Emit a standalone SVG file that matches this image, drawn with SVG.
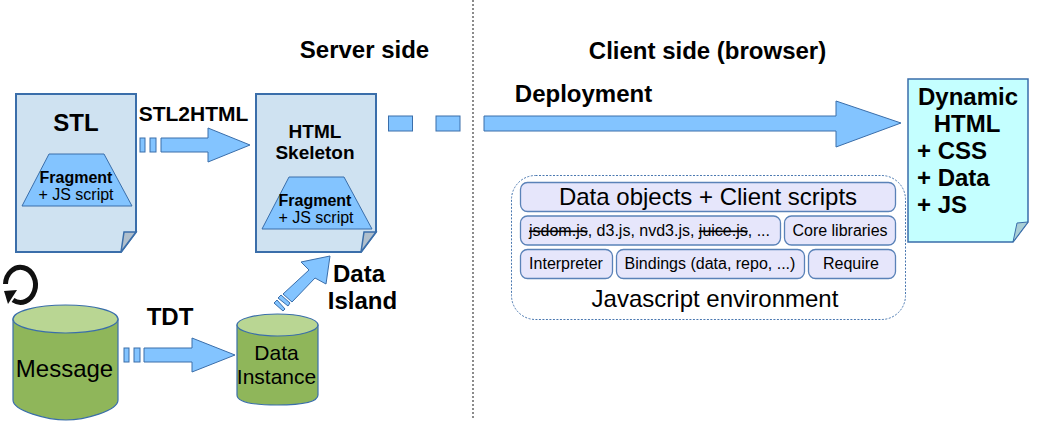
<svg xmlns="http://www.w3.org/2000/svg" width="1044" height="440" viewBox="0 0 1044 440">
<style>
text{font-family:"Liberation Sans",Arial,sans-serif;fill:#000;text-anchor:middle}
.b{font-weight:bold}
.s{text-anchor:start}
.doc{fill:#cfe2f1;stroke:#3a6eaa;stroke-width:2}
.fold{fill:#b0bfcc;stroke:#3a6eaa;stroke-width:1.5}
.arr{fill:#83c4ff;stroke:#3a6eaa;stroke-width:1}
.trap{fill:#83c4ff;stroke:#3a6eaa;stroke-width:1}
.cyl{fill:#8fb65a;stroke:#3a6eaa;stroke-width:1.2}
.top{fill:#b9d693;stroke:#3a6eaa;stroke-width:1.2}
.box{fill:#e6e6fb;stroke:#5a82b8;stroke-width:1.3}
</style>
<g id="divider"><line x1="473" y1="0" x2="473" y2="419" stroke="#666" stroke-width="1.5" stroke-dasharray="2 2"/></g>
<g id="headings">
<text class="b" x="364.500" y="58" font-size="24">Server side</text>
<text class="b" x="707.500" y="59" font-size="24">Client side (browser)</text>
</g>
<g id="stl">
<path class="doc" d="M16 94H136V232L121 252H16Z"/>
<path class="fold" d="M121 252L124 232L136 232Z"/>
<text class="b" x="76" y="131" font-size="24">STL</text>
<path class="trap" d="M49 154H104L132 206H22Z"/>
<text class="b" x="76" y="183" font-size="16">Fragment</text>
<text x="76" y="200" font-size="16">+ JS script</text>
</g>
<g id="html-skeleton">
<path class="doc" d="M256 94H376V232L361 252H256Z"/>
<path class="fold" d="M361 252L364 232L376 232Z"/>
<text class="b" x="315" y="138" font-size="19">HTML</text>
<text class="b" x="315" y="159" font-size="19">Skeleton</text>
<path class="trap" d="M289 177H344L372 229H262Z"/>
<text class="b" x="315" y="206" font-size="16">Fragment</text>
<text x="316" y="223" font-size="16">+ JS script</text>
</g>
<g id="dynamic-html">
<path d="M908 79H1028V222L1013 242H908Z" fill="#c4ffff" stroke="#3a6eaa" stroke-width="1.5"/>
<path d="M1013 242L1017 223L1028 222Z" fill="#a9cfd6" stroke="#3a6eaa" stroke-width="1"/>
<text class="b" x="968" y="105" font-size="24">Dynamic</text>
<text class="b" x="967" y="132" font-size="24">HTML</text>
<text class="b s" x="917" y="159" font-size="24">+ CSS</text>
<text class="b s" x="917" y="186" font-size="24">+ Data</text>
<text class="b s" x="917" y="213" font-size="24">+ JS</text>
</g>
<g id="message">
<path class="cyl" d="M13 319V400C13 411 48 420 66 420H66C84 420 118 411 118 400V319Z"/>
<ellipse class="top" cx="65.500" cy="319" rx="52.500" ry="14"/>
<text x="64.500" y="377" font-size="24">Message</text>
</g>
<g id="data-instance">
<path class="cyl" d="M237 325V395C237 403 258 405 277 405C296 405 318 403 318 395V325Z"/>
<ellipse class="top" cx="277.500" cy="325" rx="40.500" ry="11"/>
<text x="276.500" y="360" font-size="21">Data</text>
<text x="276.500" y="384" font-size="21">Instance</text>
</g>
<g id="refresh-icon"><path d="M5.500 284A15 17.500 0 1 1 13 300" fill="none" stroke="#111" stroke-width="5"/><path d="M4 291L17 290L8 304Z" fill="#111"/></g>
<g id="connectors">
<path class="arr" d="M161 138H208V128L250 145L208 162V152H161Z"/>
<rect class="arr" x="140" y="138" width="5" height="14"/><rect class="arr" x="150" y="138" width="6" height="14"/>
<path class="arr" d="M144 348H192V338L235 355L192 372V362H144Z"/>
<rect class="arr" x="124" y="348" width="5" height="14"/><rect class="arr" x="134" y="348" width="6" height="14"/>
<path class="arr" d="M283 294L309 270L301 262L330 256L326 284L315 278L292 302Z"/>
<path class="arr" d="M278 298L281 295L290 303L288 306Z"/><path class="arr" d="M274 303L277 300L285 309L283 311Z"/>
<rect class="arr" x="388.500" y="116" width="24" height="15"/>
<rect class="arr" x="436" y="116" width="24" height="15"/>
<path class="arr" d="M484 116H836V101L901 123L836 147V131H484Z"/>
</g>
<g id="labels">
<text class="b" x="193.500" y="121" font-size="21">STL2HTML</text>
<text class="b" x="170" y="325" font-size="24">TDT</text>
<text class="b" x="359" y="282" font-size="24">Data</text>
<text class="b" x="362.500" y="309" font-size="24">Island</text>
<text class="b" x="583.500" y="102" font-size="24">Deployment</text>
</g>
<g id="js-environment">
<rect x="511.500" y="175.500" width="394" height="144" rx="24" fill="#fff" stroke="#4a78b0" stroke-width="1" stroke-dasharray="2 1.500"/>
<text x="715" y="307" font-size="24">Javascript environment</text>
</g>
<g id="data-objects"><rect class="box" x="520.500" y="182.500" width="375" height="29" rx="7"/><text x="708" y="205" font-size="24">Data objects + Client scripts</text></g>
<g id="libraries"><rect class="box" x="520.500" y="216" width="260" height="29" rx="7"/><text x="649.500" y="236" font-size="16"><tspan text-decoration="line-through">jsdom.js</tspan>, d3.js, nvd3.js, <tspan text-decoration="line-through">juice.js</tspan>, ...</text></g>
<g id="core-libraries"><rect class="box" x="784.500" y="216" width="111" height="29" rx="7"/><text x="840" y="236" font-size="16">Core libraries</text></g>
<g id="interpreter"><rect class="box" x="520.500" y="249.500" width="92" height="29" rx="7"/><text x="566" y="269" font-size="16">Interpreter</text></g>
<g id="bindings"><rect class="box" x="616.500" y="249.500" width="188" height="29" rx="7"/><text x="710" y="269" font-size="16">Bindings (data, repo, ...)</text></g>
<g id="require"><rect class="box" x="808.500" y="249.500" width="87" height="29" rx="7"/><text x="851" y="269" font-size="16">Require</text></g>
</svg>
